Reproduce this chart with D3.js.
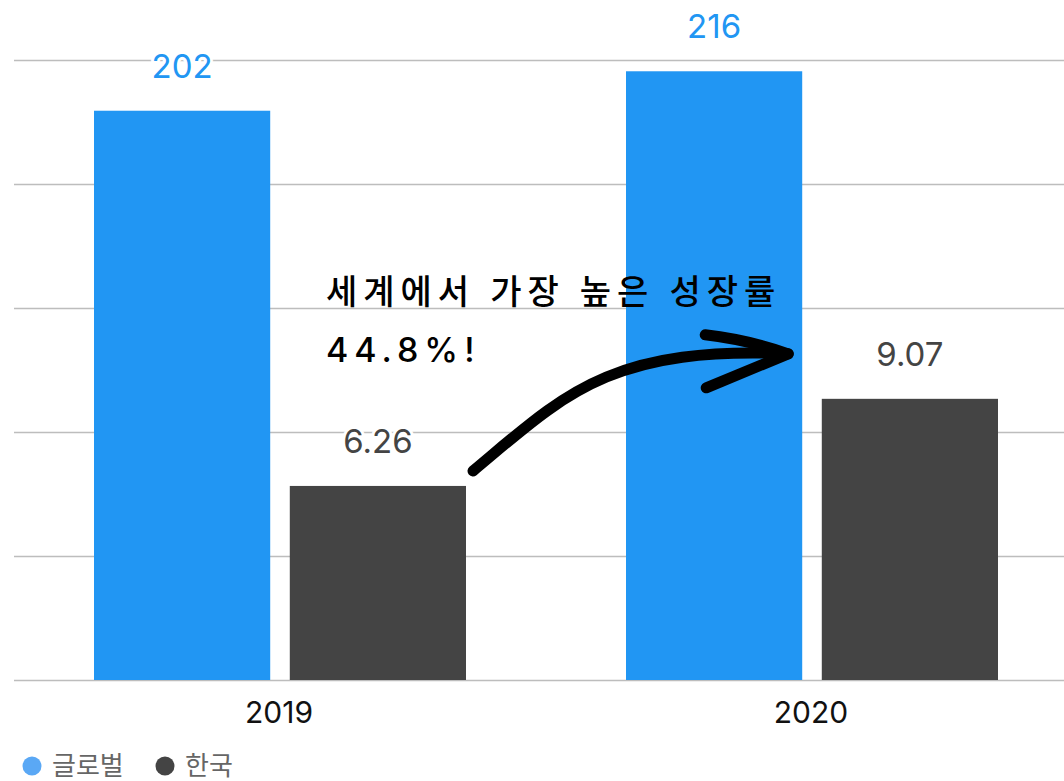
<!DOCTYPE html>
<html>
<head>
<meta charset="utf-8">
<script src="https://cdn.jsdelivr.net/npm/d3@7"></script>
<style>
  html, body { margin: 0; padding: 0; background: #fff; }
  svg text { font-family: Inter, "Noto Sans CJK KR", sans-serif; }
</style>
</head>
<body>
<div id="chart"></div>
<script>
// values
var years = ["2019", "2020"];
var seriesNames = ["글로벌", "한국"];
var globalValues = [202, 216];
var koreaValues = [6.26, 9.07];
var gridTicks = [0, 44, 88, 132, 176, 220];
var noteLines = ["세계에서 가장 높은 성장률", "44.8%!"];

var W = 1064, H = 781;
var colors = {global: "#2196f3", korea: "#444444", legendGlobal: "#5aa8f5"};

var svg = d3.select("#chart").append("svg")
    .attr("width", W)
    .attr("height", H);

// two value axes (no tick labels shown in the original)
var yGlobal = d3.scaleLinear().domain([0, 220]).range([680, 60]);
var yKorea = d3.scaleLinear().domain([0, 20]).range([680, 60]);

var x0 = d3.scaleBand().domain(years).range([14, 1078]);
var x1 = d3.scaleBand().domain(seriesNames).range([80, 452]).paddingInner(0.1);

// grid
svg.append("g").selectAll("line")
    .data(gridTicks)
    .enter().append("line")
    .attr("x1", 14).attr("x2", W)
    .attr("y1", function(d) { return Math.round(yGlobal(d)) + 0.5; })
    .attr("y2", function(d) { return Math.round(yGlobal(d)) + 0.5; })
    .attr("stroke", "#bdbdbd")
    .attr("stroke-width", 1.5);

var groups = svg.selectAll(".year")
    .data(years)
    .enter().append("g")
    .attr("class", "year")
    .attr("transform", function(d) { return "translate(" + x0(d) + ",0)"; });

// global bars
groups.append("rect")
    .attr("x", x1("글로벌"))
    .attr("width", x1.bandwidth())
    .attr("y", function(d, i) { return yGlobal(globalValues[i]); })
    .attr("height", function(d, i) { return 680 - yGlobal(globalValues[i]); })
    .attr("fill", colors.global);

// korea bars
groups.append("rect")
    .attr("x", x1("한국"))
    .attr("width", x1.bandwidth())
    .attr("y", function(d, i) { return yKorea(koreaValues[i]); })
    .attr("height", function(d, i) { return 680 - yKorea(koreaValues[i]); })
    .attr("fill", colors.korea);

// value labels with white halo
function valueLabel(sel, key, scale, vals, color) {
    sel.append("text")
        .attr("x", x1(key) + x1.bandwidth() / 2)
        .attr("y", function(d, i) { return scale(vals[i]) - 33; })
        .attr("text-anchor", "middle")
        .attr("font-size", 33)
        .attr("fill", color)
        .attr("stroke", "#fff")
        .attr("stroke-width", 6)
        .attr("paint-order", "stroke")
        .text(function(d, i) { return vals[i]; });
}
valueLabel(groups, "글로벌", yGlobal, globalValues, colors.global);
valueLabel(groups, "한국", yKorea, koreaValues, "#444");

// x labels
groups.append("text")
    .attr("x", x0.bandwidth() / 2 - 1)
    .attr("y", 723)
    .attr("text-anchor", "middle")
    .attr("font-size", 30)
    .attr("fill", "#111")
    .text(function(d) { return d; });

// legend
var legend = svg.append("g").attr("transform", "translate(0,766)");
var legendItems = [
    {name: seriesNames[0], color: colors.legendGlobal, x: 32},
    {name: seriesNames[1], color: colors.korea, x: 165}
];
legendItems.forEach(function(it) {
    legend.append("circle").attr("cx", it.x).attr("cy", 0).attr("r", 9.5).attr("fill", it.color);
    legend.append("text")
        .attr("x", it.x + 20).attr("y", 9)
        .attr("font-size", 26)
        .attr("fill", "#666")
        .style("font-family", "'Noto Sans CJK KR', sans-serif")
        .text(it.name);
});

// annotation
var note = svg.append("g")
    .style("font-family", "'Noto Sans CJK KR', sans-serif")
    .attr("font-size", 34)
    .attr("font-weight", 500)
    .attr("letter-spacing", 6)
    .attr("fill", "#000");
note.selectAll("text")
    .data(noteLines)
    .enter().append("text")
    .attr("x", 326)
    .attr("y", function(d, i) { return 304 + i * 58; })
    .text(function(d) { return d; });

// arrow from 2019 korea bar towards 2020
var sx = x0("2019") + x1("한국") + x1.bandwidth() + 7;
var sy = yKorea(koreaValues[0]) - 15;
var ex = x0("2020") + x1("글로벌") + x1.bandwidth() - 14;
var ey = yKorea(koreaValues[1]) - 45;
svg.append("path")
    .attr("d", "M" + sx + "," + sy + " C" + (sx + 90) + "," + (sy - 75) + " " + (ex - 180) + "," + (ey - 8) + " " + ex + "," + ey)
    .attr("fill", "none")
    .attr("stroke", "#000")
    .attr("stroke-width", 11)
    .attr("stroke-linecap", "round");
svg.append("path")
    .attr("d", "M" + (ex - 83) + "," + (ey - 19) + " Q" + (ex - 40) + "," + (ey - 14) + " " + ex + "," + ey +
               " L" + (ex - 82) + "," + (ey + 34))
    .attr("fill", "none")
    .attr("stroke", "#000")
    .attr("stroke-width", 11)
    .attr("stroke-linecap", "round")
    .attr("stroke-linejoin", "round");
</script>
</body>
</html>
